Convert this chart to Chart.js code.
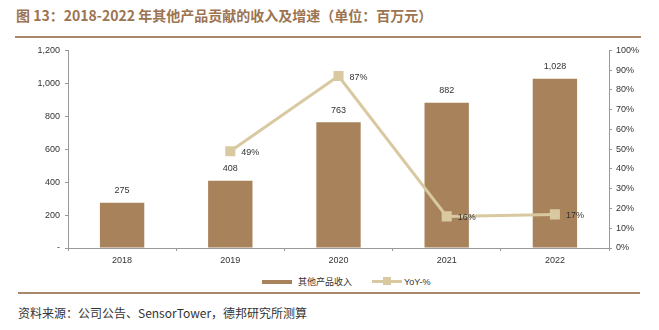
<!DOCTYPE html>
<html>
<head>
<meta charset="utf-8">
<script src="https://cdn.jsdelivr.net/npm/chart.js@4"></script>
<style>
  body { margin: 0; width: 659px; height: 330px; background: #fff; position: relative; overflow: hidden; }
  #title { position: absolute; left: 16px; top: 5px; font: bold 14px "Noto Sans CJK SC", "Liberation Sans", sans-serif; color: #9c7452; white-space: nowrap; }
  #rule1 { position: absolute; left: 15px; top: 36px; width: 626px; height: 2px; background: #a8896c; }
  #rule2 { position: absolute; left: 18px; top: 292px; width: 622px; height: 2px; background: #a8896c; }
  #source { position: absolute; left: 18px; top: 304px; font: 12px "Noto Sans CJK SC", "Liberation Sans", sans-serif; color: #333; white-space: nowrap; }
  #wrap { position: absolute; left: 0; top: 40px; width: 659px; height: 233px; }
  #legend { position: absolute; left: 262px; top: 274px; font: 9px "Noto Sans CJK SC", "Liberation Sans", sans-serif; color: #333; white-space: nowrap; }
  #legend span { display: inline-block; vertical-align: middle; }
</style>
</head>
<body>
<div id="title">图 13：2018-2022 年其他产品贡献的收入及增速（单位：百万元）</div>
<div id="rule1"></div>
<div id="wrap"><canvas id="chart"></canvas></div>
<div id="legend">
  <span style="width:30px;height:4px;background:#a8825a;margin-right:6px"></span><span>其他产品收入</span>
  <span style="position:relative;width:30px;height:3px;background:#d9c9a0;margin-left:18px;margin-right:2px">
    <span style="position:absolute;left:11px;top:-3px;width:8px;height:8px;background:#d9c9a0"></span>
  </span><span style="font-family:'Liberation Sans';font-size:9px">YoY-%</span>
</div>
<div id="rule2"></div>
<div id="source">资料来源：公司公告、SensorTower，德邦研究所测算</div>
<script>
// chart data
var years = ['2018', '2019', '2020', '2021', '2022'];
var revenue = [275, 408, 763, 882, 1028];
var yoy = [null, 49, 87, 16, 17];

var barColor = '#a8825a';
var lineColor = '#d9c9a0';

// draws the numbers above bars and beside the line points
var valueLabels = {
  id: 'valueLabels',
  afterDatasetsDraw: function (chart) {
    var ctx = chart.ctx;
    ctx.save();
    ctx.font = '9px "Liberation Sans", Arial, sans-serif';
    ctx.fillStyle = '#333';
    ctx.textBaseline = 'middle';
    chart.getDatasetMeta(0).data.forEach(function (bar, i) {
      ctx.textAlign = 'center';
      ctx.fillText(revenue[i].toLocaleString('en-US'), bar.x, bar.y - 12);
    });
    chart.getDatasetMeta(1).data.forEach(function (pt, i) {
      if (yoy[i] === null) return;
      ctx.textAlign = 'left';
      ctx.fillText(yoy[i] + '%', pt.x + 11, pt.y + 1);
    });
    ctx.restore();
  }
};

var ctx = document.getElementById('chart').getContext('2d');
new Chart(ctx, {
  data: {
    labels: years,
    datasets: [{
      type: 'bar',
      label: '其他产品收入',
      data: revenue,
      backgroundColor: barColor,
      yAxisID: 'y',
      categoryPercentage: 1,
      barPercentage: 0.41,
      order: 2
    }, {
      type: 'line',
      label: 'YoY-%',
      data: yoy,
      borderColor: lineColor,
      backgroundColor: lineColor,
      borderWidth: 3,
      pointStyle: 'rect',
      pointRadius: 5,
      pointHoverRadius: 5,
      yAxisID: 'y1',
      order: 1
    }]
  },
  options: {
    responsive: true,
    maintainAspectRatio: false,
    animation: false,
    layout: { padding: { top: 3, bottom: 0 } },
    plugins: { legend: { display: false }, tooltip: { enabled: false } },
    scales: {
      x: {
        grid: { display: true, drawOnChartArea: false, offset: true, tickLength: 3, color: '#999' },
        border: { color: '#999' },
        ticks: { color: '#333', font: { size: 9, family: 'Liberation Sans' }, padding: 4 },
        afterFit: function (s) { s.height = 25; }
      },
      y: {
        position: 'left',
        min: 0, max: 1200,
        grid: { drawOnChartArea: false, tickLength: 3, color: '#999' },
        border: { color: '#999' },
        ticks: {
          stepSize: 200,
          color: '#333',
          font: { size: 9, family: 'Liberation Sans' },
          padding: 5,
          callback: function (v) { return v === 0 ? '-' : v.toLocaleString('en-US'); }
        },
        afterFit: function (s) { s.width = 68; }
      },
      y1: {
        position: 'right',
        min: 0, max: 100,
        grid: { drawOnChartArea: false, tickLength: 3, color: '#999' },
        border: { color: '#999' },
        ticks: {
          stepSize: 10,
          color: '#333',
          font: { size: 9, family: 'Liberation Sans' },
          padding: 4,
          callback: function (v) { return v + '%'; }
        },
        afterFit: function (s) { s.width = 50; }
      }
    }
  },
  plugins: [valueLabels]
});
</script>
</body>
</html>
